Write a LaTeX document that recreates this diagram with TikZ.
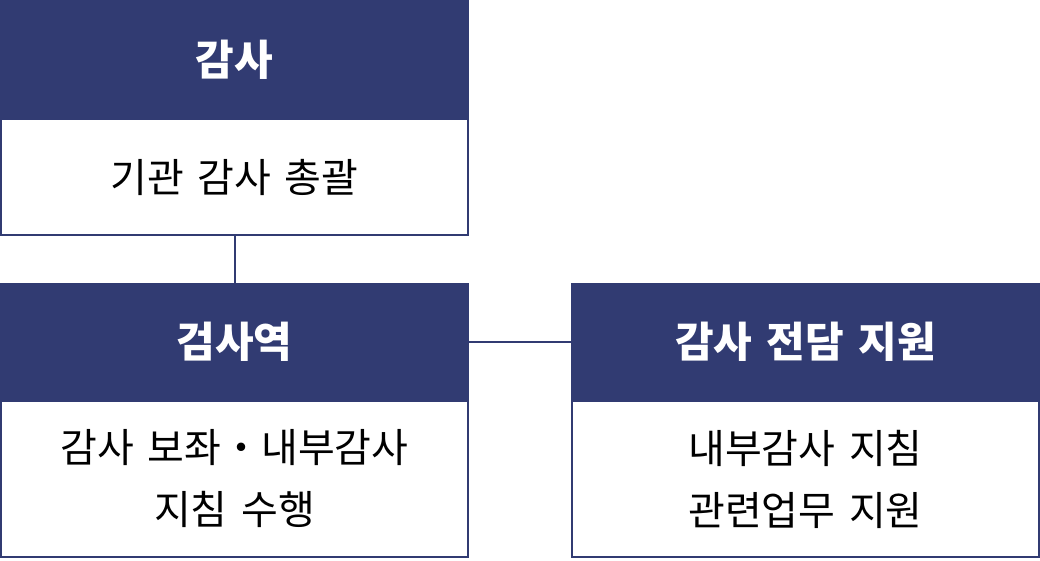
\documentclass[tikz,border=0pt]{standalone}
\usepackage{fontspec}
\newfontfamily\kr[WordSpace={1.5,0,0}]{Noto Sans CJK KR}
\definecolor{navy}{HTML}{313B72}
\begin{document}
\begin{tikzpicture}[x=1pt,y=-1pt,
  hdr/.style={fill=navy,text=white,inner sep=0pt,outer sep=0pt,minimum width=469pt,minimum height=119pt,font=\kr\bfseries\fontsize{42}{46}\selectfont},
  bodybox/.style={draw=navy,line width=2pt,fill=white,inner sep=0pt,outer sep=1pt,minimum width=467pt,align=center,font=\kr\fontsize{40}{62}\selectfont},
  conn/.style={draw=navy,line width=2pt}]
\useasboundingbox (0,0) rectangle (1040,560);
\node[bodybox,minimum height=116pt] (b1) at (234.5,177) {기관 감사 총괄};
\node[hdr] (h1) at (234.5,59.5) {감사};
\node[bodybox,minimum height=156pt] (b2) at (234.5,479) {감사 보좌・내부감사\\지침 수행};
\node[hdr] (h2) at (234.5,342) {검사역};
\node[bodybox,minimum height=156pt] (b3) at (805.5,479) {내부감사 지침\\관련업무 지원};
\node[hdr] (h3) at (805.5,342) {감사 전담 지원};
\draw[conn] (b1.south) -- (h2.north);
\draw[conn] (h2.east) -- (h3.west);
\end{tikzpicture}
\end{document}
